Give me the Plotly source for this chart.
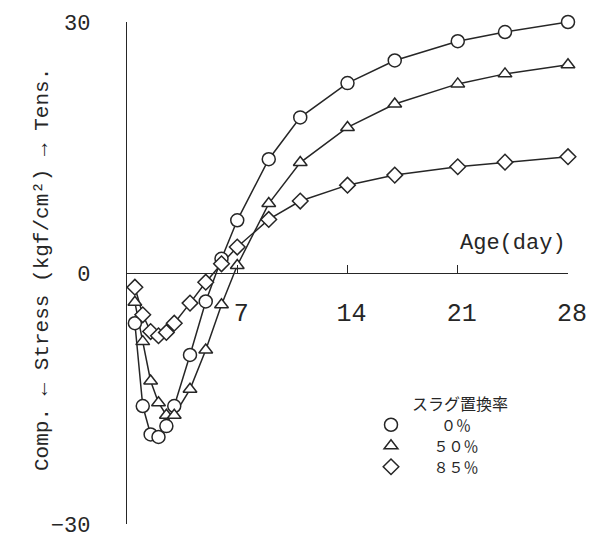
import plotly.graph_objects as go

# ---- data ----
days = [0.5, 1, 1.5, 2, 2.5, 3, 4, 5, 6, 7, 9, 11, 14, 17, 21, 24, 28]
stress_0 = [-6.0, -15.9, -19.3, -19.6, -18.3, -15.9, -9.8, -3.4, 1.7, 6.3,
            13.6, 18.6, 22.7, 25.4, 27.7, 28.8, 30.0]
stress_50 = [-3.5, -8.2, -12.9, -15.5, -17.0, -17.0, -13.9, -9.2, -3.8, 0.9,
             8.3, 13.2, 17.4, 20.2, 22.6, 23.8, 24.9]
stress_85 = [-1.7, -5.0, -7.0, -7.5, -7.1, -6.0, -3.6, -1.1, 1.1, 3.1,
             6.4, 8.6, 10.5, 11.7, 12.7, 13.25, 13.9]
series_names = ["\u3000\u3000０％", "\u3000\u2002５０％", "\u3000\u2002８５％"]
legend_title = "スラグ置換率"
x_ticks = [7, 14, 21, 28]
y_ticks = [-30, 0, 30]

INK = "#262626"
MONO = "Liberation Mono"
JP = "Noto Sans CJK JP"

# plot area geometry (figure pixels)
FIG_W, FIG_H = 589, 532
M_L, M_R, M_T, M_B = 119, 29, 14, 16
PLOT_W = FIG_W - M_L - M_R
PLOT_H = FIG_H - M_T - M_B


def px_to_paper(xpx, ypx):
    return (xpx - M_L) / PLOT_W, (FIG_H - M_B - ypx) / PLOT_H


fig = go.Figure()
legend_rows_px = [417, 438, 459]
specs = [
    (stress_0, series_names[0], "circle", 13, "legend"),
    (stress_50, series_names[1], "triangle-up", 12, "legend2"),
    (stress_85, series_names[2], "diamond", 12, "legend3"),
]
# connecting lines (no legend entry)
for vals, name, sym, size, lg in specs:
    fig.add_trace(go.Scatter(
        x=days, y=vals, mode="lines", showlegend=False, hoverinfo="skip",
        line=dict(color=INK, width=1.5), cliponaxis=False,
    ))
# hollow markers (legend entry shows the symbol only)
for vals, name, sym, size, lg in specs:
    fig.add_trace(go.Scatter(
        x=days, y=vals, name=name, mode="markers", legend=lg,
        marker=dict(symbol=sym, size=size, color="white",
                    line=dict(color=INK, width=1.5)),
        cliponaxis=False,
    ))

legend_common = dict(
    xanchor="left", yanchor="middle",
    font=dict(family=JP, size=15, color=INK),
    bgcolor="rgba(0,0,0,0)", borderwidth=0,
)
layout_legends = {}
for (_, _, _, _, lg), ypx in zip(specs, legend_rows_px):
    lx, ly = px_to_paper(363, ypx)
    layout_legends[lg] = dict(x=lx, y=ly, **legend_common)

tx, ty = px_to_paper(402, 395)
ax_, ay_ = px_to_paper(FIG_W - M_R, 235)
yx, yy = px_to_paper(34, 262)

fig.update_layout(
    width=FIG_W, height=FIG_H,
    margin=dict(l=M_L, r=M_R, t=M_T, b=M_B),
    paper_bgcolor="white", plot_bgcolor="white",
    showlegend=True,
    xaxis=dict(
        range=[0, 28], tickvals=x_ticks, ticks="inside", ticklen=8,
        tickwidth=1.4, tickcolor=INK, showline=True, linecolor=INK,
        linewidth=1.4, showgrid=False, zeroline=False, automargin=False,
        anchor="free", position=0.5, ticklabelstandoff=17,
        ticklabelshift=4, ticklabeloverflow="allow",
        tickfont=dict(family=MONO, size=25, color=INK),
    ),
    yaxis=dict(
        range=[-30, 30], tickvals=y_ticks, ticks="inside", ticklen=10,
        tickwidth=1.4, tickcolor=INK, showline=True, linecolor=INK,
        linewidth=1.4, showgrid=False, zeroline=False, domain=[0, 1],
        automargin=False, ticklabelstandoff=31,
        ticklabeloverflow="allow",
        tickfont=dict(family=MONO, size=22, color=INK),
    ),
    annotations=[
        dict(text="Age(day)", xref="paper", yref="paper", x=ax_, y=ay_,
             xanchor="right", yanchor="middle", showarrow=False,
             font=dict(family=MONO, size=22, color=INK)),
        dict(text="Comp. ← Stress (kgf/cm²) → Tens.", xref="paper", yref="paper",
             x=yx, y=yy, xanchor="center", yanchor="middle",
             textangle=-90, showarrow=False,
             font=dict(family=MONO, size=21, color=INK)),
        dict(text=legend_title, xref="paper", yref="paper", x=tx, y=ty,
             xanchor="left", yanchor="middle", showarrow=False,
             font=dict(family=JP, size=16, color=INK)),
    ],
    **layout_legends,
)

fig.write_html("out.html")
